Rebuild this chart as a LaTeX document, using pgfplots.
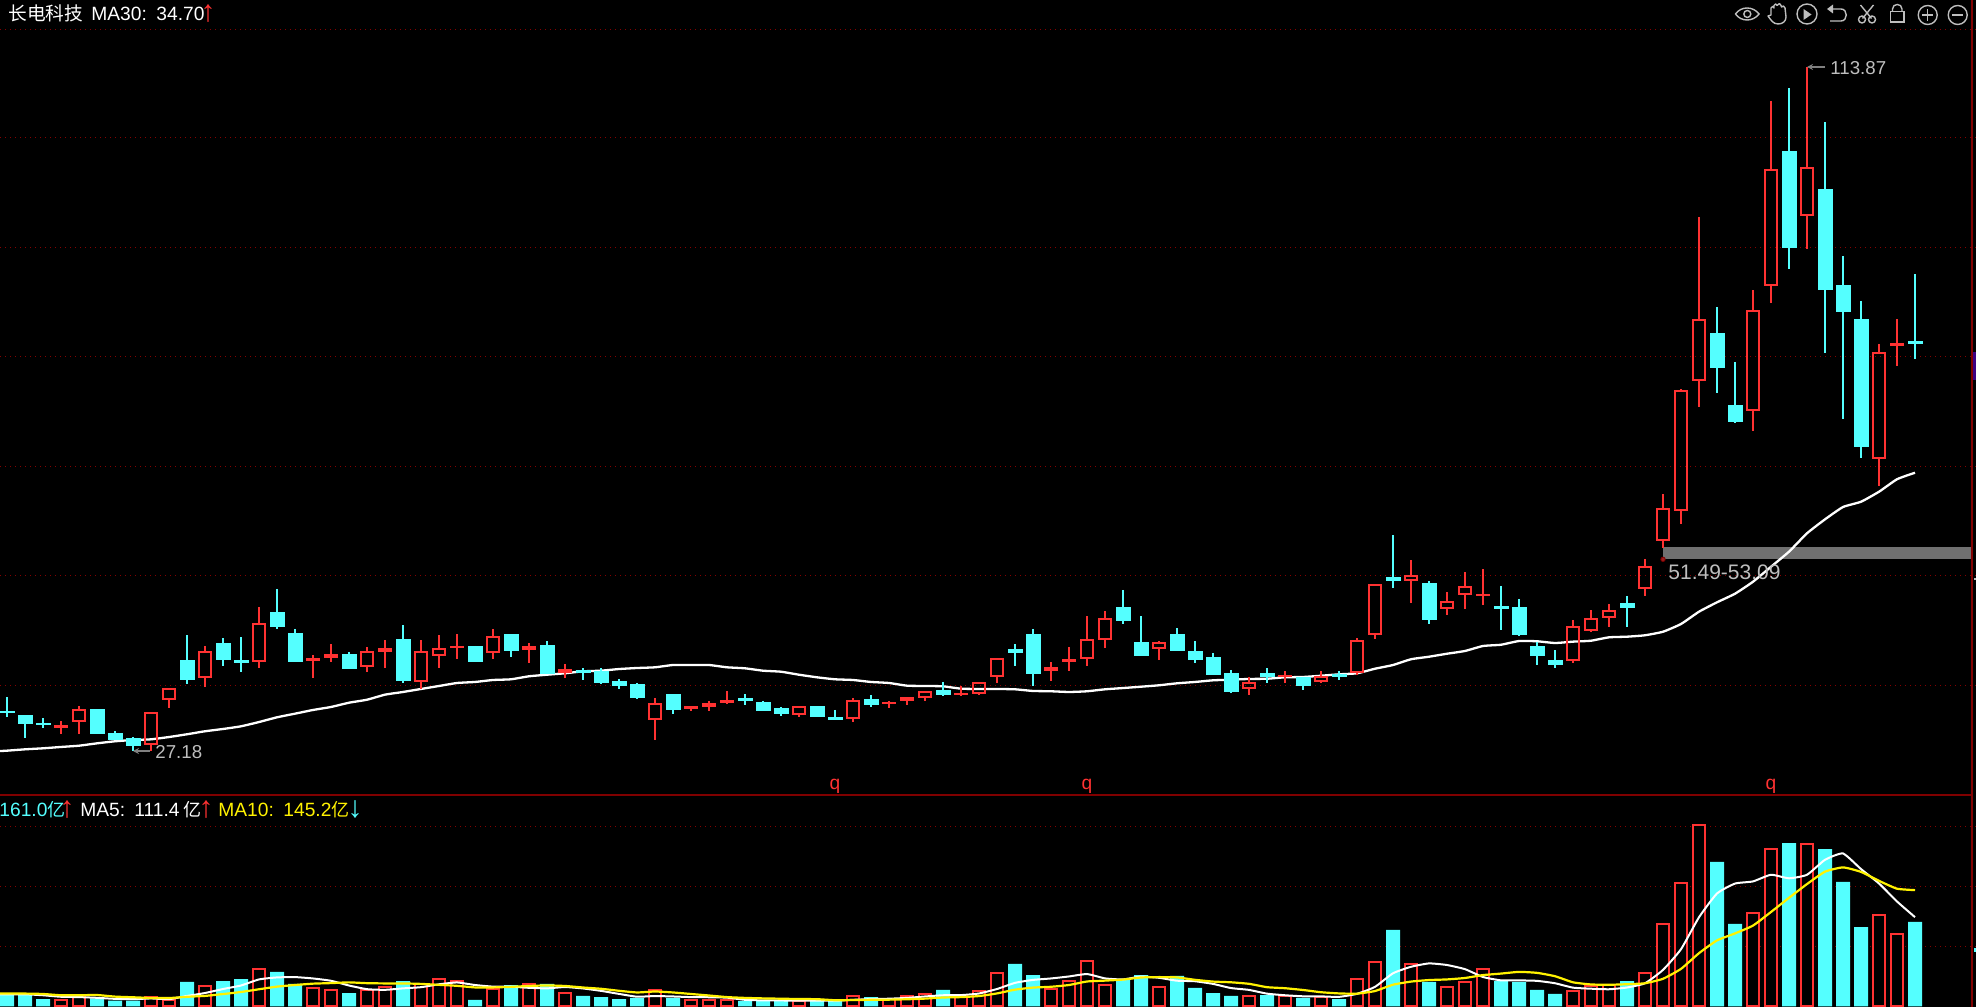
\documentclass[border=0pt]{standalone}
\usepackage{pgfplots}
\usepackage{pgfplotstable}
\pgfplotsset{compat=1.18}
\usetikzlibrary{arrows.meta}
\usepackage{fontspec}
\setmainfont{Liberation Sans}
\newfontfamily\cjk{Noto Sans CJK SC}
\definecolor{upc}{RGB}{255,50,50}
\definecolor{dnc}{RGB}{84,255,255}
\definecolor{dred}{RGB}{128,0,0}
\definecolor{gridc}{RGB}{135,0,0}
\definecolor{txtg}{RGB}{190,190,190}
\definecolor{bandg}{RGB}{112,112,112}
\definecolor{purp}{RGB}{60,0,130}
\pgfdeclareplotmark{nil}{}
\def\K{3.9438}
\pgfplotstableread{
i hi tp bt lo c
0 34.03 32.26 32.13 31.54 0
1 31.75 31.75 30.65 28.87 0
2 31.33 30.68 30.55 30.14 0
3 30.99 30.36 30.19 29.38 1
4 32.86 32.47 30.90 29.38 1
5 32.51 32.51 29.47 29.38 0
6 29.72 29.47 28.71 28.58 0
7 28.93 28.80 27.86 27.18 0
8 32.09 32.09 27.91 27.18 1
9 35.14 35.14 33.62 32.68 1
10 41.89 38.73 36.32 35.68 0
11 40.50 39.83 36.41 35.34 1
12 41.51 40.88 38.85 37.96 0
13 41.64 38.73 38.47 37.20 0
14 45.44 43.45 38.51 37.75 1
15 47.73 44.81 43.04 42.66 0
16 42.66 42.15 38.60 38.47 0
17 39.36 38.98 38.60 36.44 1
18 40.75 39.49 38.98 38.47 1
19 39.74 39.49 37.71 37.58 0
20 40.37 39.83 37.88 37.20 1
21 41.26 40.25 39.74 37.71 1
22 43.16 41.39 36.19 35.81 0
23 41.26 39.83 35.97 35.05 1
24 41.89 40.25 39.27 37.71 1
25 42.02 40.50 40.25 38.85 1
26 40.50 40.50 38.60 38.47 0
27 42.66 41.73 39.61 38.85 1
28 42.02 42.02 39.99 39.11 0
29 40.88 40.50 39.99 38.34 1
30 41.13 40.63 37.08 36.95 0
31 38.22 37.58 37.08 36.44 1
32 37.71 37.42 37.17 36.19 0
33 37.71 37.33 35.94 35.68 0
34 36.32 36.06 35.56 35.05 0
35 35.81 35.68 34.03 33.78 0
36 33.91 33.23 31.08 28.58 1
37 34.41 34.41 32.51 31.88 0
38 32.89 32.89 32.51 32.26 1
39 33.53 33.27 32.77 32.26 1
40 34.80 33.65 33.27 33.15 1
41 34.41 33.82 33.62 33.02 0
42 33.53 33.40 32.39 32.26 0
43 32.77 32.64 32.01 31.63 0
44 32.89 32.86 31.79 31.54 1
45 32.89 32.89 31.63 31.50 0
46 32.39 31.46 31.25 31.25 0
47 33.91 33.62 31.28 30.86 1
48 34.29 33.78 33.15 32.77 0
49 33.53 33.40 33.15 32.64 1
50 34.03 34.03 33.53 33.02 1
51 34.76 34.76 33.95 33.53 1
52 35.94 34.92 34.41 34.16 0
53 35.43 34.50 34.29 34.16 1
54 35.90 35.90 34.45 34.29 1
55 38.94 38.94 36.61 35.81 1
56 40.75 40.12 39.74 37.96 0
57 42.66 42.02 37.08 35.43 0
58 38.47 37.84 37.33 36.06 1
59 40.37 38.73 38.56 37.33 1
60 44.30 41.35 38.89 37.96 1
61 44.94 44.01 41.30 40.25 1
62 47.60 45.44 43.80 43.29 0
63 44.30 41.01 39.36 39.23 0
64 41.13 40.97 40.16 38.73 1
65 42.78 42.02 39.99 39.87 0
66 41.13 39.87 38.85 38.34 0
67 39.61 39.11 36.95 36.82 0
68 37.46 37.08 34.80 34.54 0
69 36.57 35.90 35.09 34.29 1
70 37.71 37.08 36.70 35.81 0
71 37.33 36.82 36.57 35.81 1
72 36.57 36.57 35.56 34.92 0
73 37.33 36.73 35.97 35.81 1
74 37.33 36.91 36.61 36.19 0
75 41.51 41.22 37.11 36.82 1
76 48.40 48.40 41.93 41.39 1
77 54.57 49.25 48.87 47.85 0
78 51.40 49.54 48.78 45.95 1
79 48.74 48.49 43.92 43.29 0
80 47.35 46.17 45.15 44.43 1
81 49.88 48.15 46.93 45.19 1
82 50.26 47.09 46.88 45.70 1
83 48.11 45.57 45.32 42.53 0
84 46.46 45.44 42.02 41.77 0
85 41.05 40.50 39.36 38.09 0
86 39.99 38.73 38.22 37.71 0
87 43.80 43.07 38.64 38.34 1
88 45.06 44.01 42.44 42.28 1
89 45.82 45.03 44.01 42.91 1
90 46.84 45.95 45.44 42.91 0
91 51.53 50.68 47.77 46.84 1
92 59.77 58.03 53.85 52.92 1
93 73.04 72.92 57.58 55.97 1
94 94.85 82.00 74.06 70.84 1
95 83.44 80.14 75.78 72.61 0
96 76.51 71.02 68.94 68.81 0
97 85.63 83.14 70.26 67.80 1
98 109.60 101.01 86.10 84.02 1
99 111.24 103.22 91.00 88.30 0
100 113.87 101.27 94.98 90.83 1
101 106.93 98.44 85.67 77.65 0
102 89.94 86.27 82.97 69.28 0
103 84.24 81.96 65.86 64.33 0
104 78.79 77.81 64.21 60.78 1
105 81.92 78.88 78.57 76.00 1
106 87.66 79.08 78.83 76.89 0
}\candles
\pgfplotstableread{
i ma
-0.4 27.18
0 27.23
1 27.40
2 27.53
3 27.70
4 27.86
5 28.16
6 28.42
7 28.58
8 28.67
9 28.96
10 29.31
11 29.69
12 29.98
13 30.32
14 30.86
15 31.46
16 31.92
17 32.39
18 32.77
19 33.31
20 33.69
21 34.33
22 34.67
23 35.05
24 35.43
25 35.81
26 35.94
27 36.19
28 36.28
29 36.66
30 36.86
31 37.04
32 37.29
33 37.37
34 37.58
35 37.71
36 37.80
37 38.09
38 38.09
39 38.09
40 37.80
41 37.67
42 37.37
43 37.24
44 36.86
45 36.53
46 36.28
47 36.19
48 35.94
49 35.81
50 35.47
51 35.43
52 35.39
53 35.09
54 35.05
55 35.05
56 35.01
57 34.80
58 34.76
59 34.67
60 34.76
61 35.01
62 35.17
63 35.34
64 35.52
65 35.77
66 35.94
67 36.15
68 36.23
69 36.32
70 36.35
71 36.53
72 36.57
73 36.73
74 36.91
75 37.04
76 37.62
77 38.09
78 38.82
79 39.14
80 39.52
81 39.87
82 40.50
83 40.66
84 41.13
85 41.10
86 40.88
87 41.05
88 41.17
89 41.60
90 41.68
91 41.86
92 42.31
93 43.29
94 44.85
95 46.04
96 47.13
97 48.65
98 50.55
99 52.46
100 54.79
101 56.56
102 58.12
103 58.79
104 60.06
105 61.64
106 62.47
}\maline
\pgfplotstableread{
i v
3 7.9
4 12.1
8 12.1
9 7.9
11 25.9
14 46.3
17 22.5
18 20.0
20 20.0
21 23.8
23 27.5
24 34.6
25 31.3
27 22.1
29 27.5
31 16.3
36 20.0
38 7.9
39 7.9
40 7.9
44 6.3
47 12.5
49 9.1
50 12.9
51 15.0
53 12.9
54 18.8
55 41.3
58 21.6
59 31.3
60 56.3
61 26.3
64 23.8
69 12.5
71 12.9
73 12.1
75 33.8
76 55.9
78 52.5
80 23.8
81 30.0
82 46.3
87 18.8
88 25.4
89 26.6
91 41.3
92 102.5
93 154.6
94 226.3
97 116.3
98 196.3
100 202.5
104 113.8
105 90.0
}\volup
\pgfplotstableread{
i v
0 14.1
1 14.1
2 9.1
5 10.0
6 7.1
7 7.1
10 30.4
12 31.6
13 34.1
15 42.9
16 27.9
19 16.6
22 31.6
26 7.9
28 26.6
30 27.9
32 12.9
33 11.6
34 9.1
35 10.4
37 10.4
41 6.6
42 6.6
43 7.5
45 7.9
46 6.6
48 11.6
52 20.4
56 52.9
57 39.1
62 32.9
63 39.1
65 37.9
66 22.9
67 16.6
68 12.9
70 14.1
72 10.4
74 9.1
77 95.4
79 30.4
83 31.6
84 30.4
85 20.4
86 15.4
90 31.6
95 180.4
96 102.9
99 204.1
101 196.6
102 155.4
103 99.1
106 105.4
}\voldn
\pgfplotstableread{
i ma5 ma10
-0.4 15.0 15.9
0 15.0 15.9
1 15.0 15.9
2 13.8 15.4
3 11.9 13.8
4 11.5 13.8
5 10.6 14.1
6 9.3 12.1
7 8.9 11.3
8 9.8 10.4
9 8.9 10.3
10 12.9 11.9
11 16.6 13.0
12 21.6 15.3
13 26.0 17.9
14 33.6 21.3
15 36.1 24.6
16 36.5 26.6
17 34.8 28.3
18 31.9 29.0
19 26.0 29.9
20 21.4 28.9
21 20.6 28.6
22 22.4 28.6
23 23.9 28.0
24 27.5 26.8
25 29.8 25.6
26 26.6 23.6
27 24.6 23.6
28 24.5 24.3
29 23.1 25.4
30 22.4 26.1
31 24.1 25.4
32 22.3 23.5
33 19.3 21.9
34 15.5 19.4
35 12.0 17.3
36 12.8 18.5
37 12.3 17.3
38 11.5 15.4
39 11.3 13.5
40 10.8 11.5
41 8.1 10.5
42 7.4 9.9
43 7.3 9.5
44 7.0 9.1
45 7.0 8.9
46 7.0 7.6
47 8.1 7.8
48 9.0 8.1
49 9.5 8.3
50 10.5 8.8
51 12.3 9.6
52 13.8 11.0
53 14.0 11.5
54 16.0 12.8
55 21.6 16.1
56 29.3 20.8
57 33.0 23.4
58 34.8 24.4
59 37.3 26.6
60 40.3 31.0
61 34.9 32.1
62 33.6 33.4
63 37.1 36.0
64 35.6 36.5
65 32.0 36.1
66 31.3 33.1
67 28.0 30.9
68 22.8 30.0
69 20.5 28.1
70 15.8 23.9
71 13.8 22.6
72 12.5 20.4
73 12.4 17.6
74 11.8 16.1
75 15.6 15.8
76 24.3 19.1
77 41.3 27.0
78 49.4 30.9
79 53.6 32.8
80 51.6 33.6
81 46.4 35.4
82 36.6 39.0
83 32.4 40.9
84 32.4 43.0
85 31.8 41.8
86 28.8 37.6
87 23.3 30.0
88 22.0 27.3
89 21.3 26.9
90 23.5 27.6
91 28.8 28.8
92 45.5 34.4
93 71.4 46.8
94 111.3 66.4
95 141.0 82.4
96 153.4 91.1
97 156.1 100.9
98 164.4 117.9
99 160.0 135.6
100 164.4 152.8
101 183.1 168.3
102 191.0 173.6
103 171.5 168.0
104 153.5 156.8
105 131.0 147.0
106 111.4 145.2
}\volma
\pgfplotsset{
  panel/.style={
    scale only axis, width=988pt,
    xmin=-0.38889, xmax=109.38889,
    axis line style={draw=none}, tick style={draw=none},
    xtick=\empty, yticklabels={},
    grid=major,
    grid style={gridc, line width=0.5pt, dash pattern=on 0.5pt off 2pt},
    axis background/.style={fill=black},
    clip=true,
  }
}
\tikzset{
  lab/.style={anchor=base west, inner sep=0, font=\fontsize{9.6pt}{11pt}\selectfont},
  labc/.style={anchor=base west, inner sep=0, font=\cjk\fontsize{9pt}{11pt}\selectfont},
  arw/.style={anchor=center, inner sep=0, font=\fontsize{15pt}{16pt}\selectfont},
}
\begin{document}
\begin{tikzpicture}
\useasboundingbox (0pt,0pt) rectangle (988pt,503.5pt);
\fill[black] (0pt,0pt) rectangle (988pt,503.5pt);
\begin{axis}[panel, at={(0pt,106pt)}, anchor=south west, height=397.5pt,
  ymin=21.61, ymax=122.40,
  ytick={35.52,49.46,63.28,77.18,91.05,105.0,118.72}]
\addplot[scatter, only marks, mark=nil,
  visualization depends on={\thisrow{tp} \as \vt},
  visualization depends on={\thisrow{bt} \as \vb},
  visualization depends on={\thisrow{lo} \as \vl},
  visualization depends on={\thisrow{hi} \as \vh},
  visualization depends on={\thisrow{c} \as \vc},
  scatter/@pre marker code/.code={%
    \scope
    \pgfmathsetmacro\dt{(\vt-\vh)*\K}%
    \pgfmathsetmacro\db{(\vb-\vh)*\K}%
    \pgfmathsetmacro\dl{(\vl-\vh)*\K}%
    \pgfmathparse{\vc>0.5 ? 1 : 0}%
    \ifdim\pgfmathresult pt>0.5pt
      \draw[upc,line width=1.05pt] (0pt,0pt) -- (0pt,\dt pt) (0pt,\db pt) -- (0pt,\dl pt);
      \draw[upc,line width=1.1pt] (-3pt,\dt pt-0.5pt) rectangle (3pt,\db pt+0.5pt);
    \else
      \draw[dnc,line width=1.05pt] (0pt,0pt) -- (0pt,\dl pt);
      \fill[dnc] (-3.5pt,\dt pt) rectangle (3.5pt,\db pt);
    \fi
  },
  scatter/@post marker code/.code={\endscope},
] table[x=i,y=hi] {\candles};
\addplot[draw=none, fill=bandg] coordinates {(92,51.49) (109.14,51.49) (109.14,53.05) (92,53.05)};
\addplot[only marks, mark=*, mark size=1.1pt, mark options={draw=dred,fill=upc!60!black}] coordinates {(92,51.49)};
\addplot[white, line width=1.15pt, smooth, tension=0.3] table[x=i,y=ma] {\maline};
\end{axis}
\begin{axis}[panel, at={(0pt,0pt)}, anchor=south west, height=106pt,
  ymin=-0.875, ymax=264.1, ytick={75,150,225}]
\addplot[ybar, bar width=6pt, bar shift=0pt, draw=upc, fill=black, line width=1.05pt] table[x=i,y=v] {\volup};
\addplot[ybar, bar width=7pt, bar shift=0pt, draw=none, fill=dnc] table[x=i,y=v] {\voldn};
\addplot[white, line width=1pt, smooth, tension=0.3] table[x=i,y=ma5] {\volma};
\addplot[yellow, line width=1.1pt, smooth, tension=0.3] table[x=i,y=ma10] {\volma};
\end{axis}
\begin{scope}[yshift=503.5pt, x=0.5pt, y=-0.5pt]
\draw[dred, line width=1.1pt] (0,795) -- (1972,795);
\draw[dred, line width=1.1pt] (1972,0) -- (1972,1007);
\fill[purp] (1973,352) rectangle (1976,380);
\fill[txtg] (1974,578) rectangle (1976,580);
\fill[dnc] (1974,948) rectangle (1976,952);
\node[labc, white, font=\cjk\fontsize{9.35pt}{11pt}\selectfont] at (8,21) {长电科技};
\node[lab, white] at (91,21) {MA30:};
\node[lab, white] at (156,21) {34.70};
\node[arw, upc] at (208,14) {↑};
\node[lab, dnc] at (-1,817) {161.0};
\node[labc, dnc] at (47,817) {亿};
\node[arw, upc] at (67,810) {↑};
\node[lab, white] at (80,817) {MA5:};
\node[lab, white] at (134,817) {111.4};
\node[labc, white] at (183,817) {亿};
\node[arw, upc] at (206,810) {↑};
\node[lab, yellow] at (218,817) {MA10:};
\node[lab, yellow] at (283,817) {145.2};
\node[labc, yellow] at (331,817) {亿};
\node[arw, dnc] at (355,810) {↓};
\node[lab, txtg, font=\fontsize{9.35pt}{11pt}\selectfont] at (1830,74.5) {113.87};
\node[lab, txtg, font=\fontsize{9.35pt}{11pt}\selectfont] at (155,758.5) {27.18};
\node[lab, txtg, font=\fontsize{10.5pt}{12pt}\selectfont] at (1668,580) {51.49-53.09};
\foreach \xq in {835,1087,1771}
  \node[anchor=base, inner sep=0, upc, font=\fontsize{9.6pt}{11pt}\selectfont] at (\xq,790) {q};
\draw[gray, line width=0.8pt, -{Stealth[length=3pt,width=3pt]}] (1825,67) -- (1807,67);
\draw[gray, line width=0.8pt, -{Stealth[length=3pt,width=3pt]}] (150,751) -- (133,751);
\begin{scope}[txtg, line width=0.7pt]
\draw (1735.5,14) .. controls (1741,6) and (1753,6) .. (1759,14) .. controls (1753,22) and (1741,22) .. cycle;
\draw (1747.3,14) circle[radius=3.5];
\draw[line join=round] (1768,16) -- (1771,15) -- (1771,8) .. controls (1771,6) and (1774,6) .. (1774,8) -- (1774,5.5) .. controls (1774,3.5) and (1777,3.5) .. (1777,5.5) -- (1777.5,5) .. controls (1778,3) and (1781,3) .. (1781,5.5) -- (1781.5,7) .. controls (1782,5.5) and (1785,5.5) .. (1785,8) -- (1786,17) .. controls (1786,21) and (1783,24) .. (1778,24) .. controls (1773,24) and (1771,20) .. cycle;
\draw (1807,14) circle[radius=10];
\fill (1803.5,9) -- (1811.5,14.5) -- (1803.5,20) -- cycle;
\draw (1828,9) -- (1841,9) .. controls (1848,9) and (1848,21) .. (1841,21) -- (1830,21);
\fill (1833,4.5) -- (1827,9) -- (1833,13.5) -- cycle;
\draw (1860.5,5) -- (1871.5,18.5) (1873.5,5) -- (1862.5,18.5);
\draw (1862,19.5) circle[radius=3.5] (1872,19.5) circle[radius=3.5];
\draw (1890.5,11.5) rectangle (1904,22);
\draw (1892.5,11.5) -- (1892.5,9) .. controls (1892.5,3) and (1902,3) .. (1902,9) -- (1902,11.5);
\draw (1927.7,15) circle[radius=9.5];
\draw (1922,15) -- (1933.4,15) (1927.7,9.3) -- (1927.7,20.7);
\draw (1957.7,15) circle[radius=9.5];
\draw (1952,15) -- (1963.4,15);
\end{scope}
\end{scope}
\end{tikzpicture}
\end{document}
